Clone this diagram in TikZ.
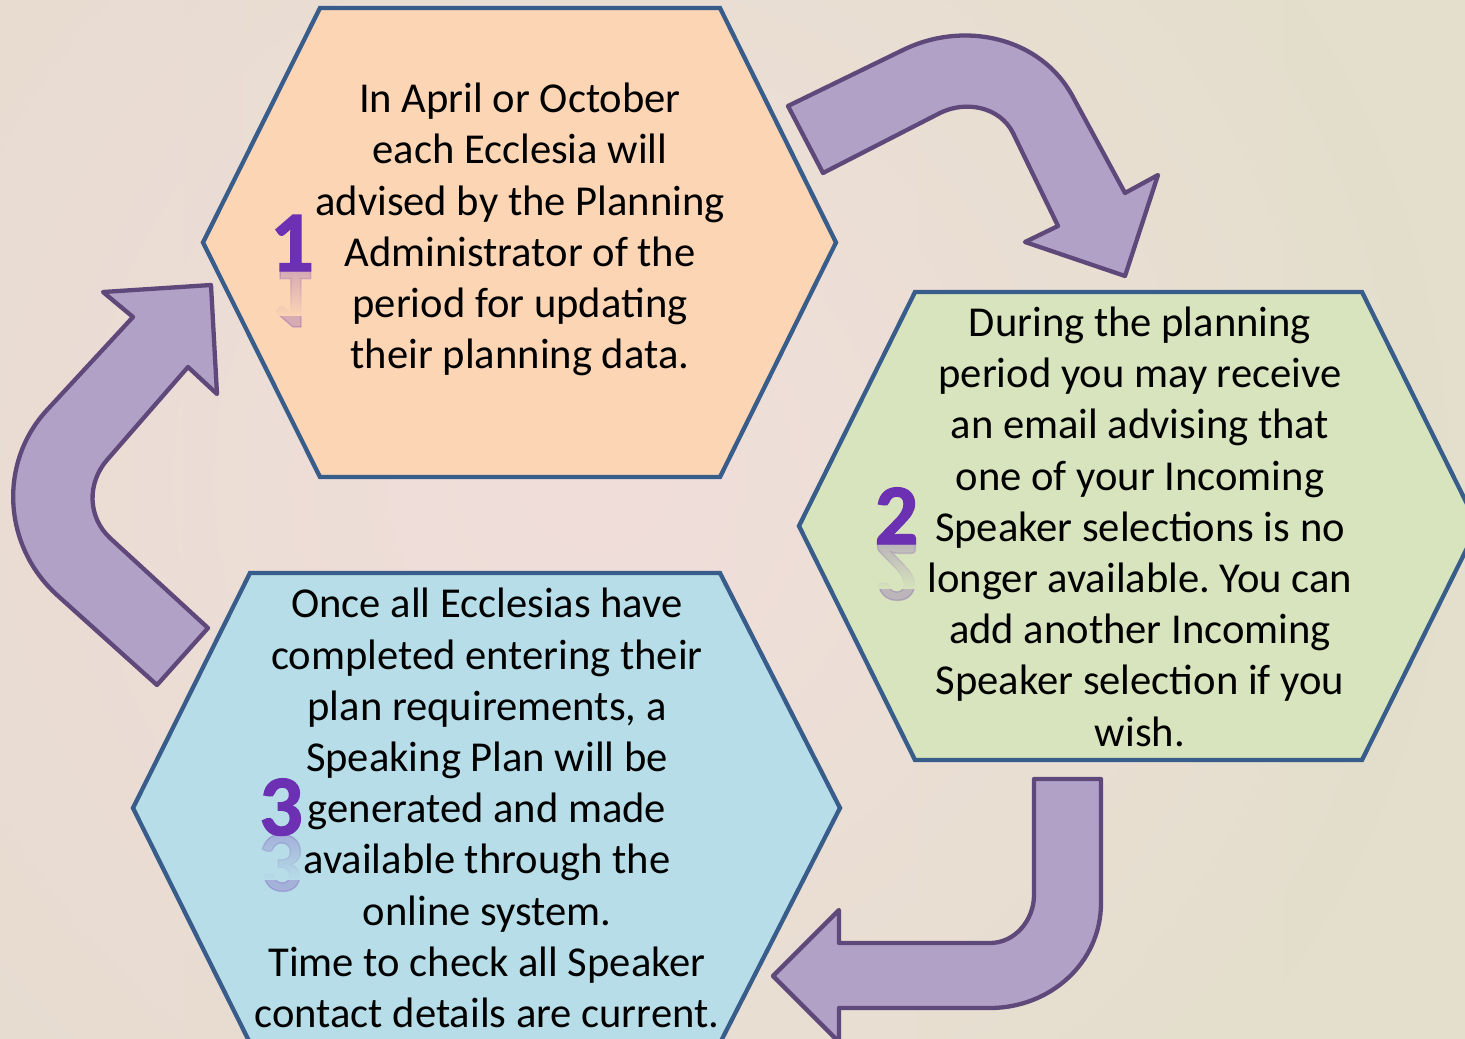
\documentclass[tikz,border=0pt]{standalone}
\usepackage{fontspec}
\setmainfont{Carlito}
\newfontfamily\numfont{Carlito}[BoldFeatures={FakeBold=1.6}]
\usetikzlibrary{fadings}
\frenchspacing

\definecolor{bgbeige}{HTML}{E7DCD0}
\definecolor{bgright}{HTML}{E3DFCC}
\definecolor{bgpink}{HTML}{F1DEDB}
\definecolor{hexline}{RGB}{56,93,138}
\definecolor{peach}{HTML}{FCD5B5}
\definecolor{sage}{HTML}{D7E4BD}
\definecolor{sky}{HTML}{B7DEE8}
\definecolor{arrowfill}{HTML}{B2A1C7}
\definecolor{arrowline}{HTML}{5F497A}
\definecolor{digit}{RGB}{108,48,178}

\tikzfading[name=glow, inner color=transparent!0, outer color=transparent!100]
\tikzfading[name=fadeup, top color=transparent!100, bottom color=transparent!0]

\begin{document}
\begin{tikzpicture}[x=1pt,y=-1pt,
  hexagon/.style={draw=hexline, line width=4.3pt, line join=miter},
  bentarrow/.style={fill=arrowfill, draw=arrowline, line width=4.3pt, line join=round},
  body/.style={align=center, inner sep=0pt, font=\fontsize{42.6}{51.2}\selectfont\frenchspacing},
  stepnum/.style={anchor=base, inner sep=0pt, text=digit, font=\fontsize{86}{90}\selectfont\numfont\bfseries},
  mirror/.style={stepnum, yscale=-1, opacity=0.25},
]
\useasboundingbox (0,0) rectangle (1465,1039);
\clip (0,0) rectangle (1465,1039);

% background
\shade[left color=bgbeige, right color=bgright] (0,0) rectangle (1465,1039);
\fill[bgpink, path fading=glow] (600,480) circle (850);

% hexagons
\filldraw[hexagon, fill=peach] (203,242.5) -- (320,8) -- (720,8) -- (836,242.5) -- (720,477) -- (320,477) -- cycle;
\filldraw[hexagon, fill=sage] (799,526) -- (915,292) -- (1362,292) -- (1478,526) -- (1362,760) -- (915,760) -- cycle;
\filldraw[hexagon, fill=sky] (133,808) -- (250,573) -- (720,573) -- (840,808) -- (720,1043) -- (250,1043) -- cycle;

% bent arrows
\filldraw[bentarrow] (788,106) -- (903,50) .. controls (964,20) and (1041,37) .. (1073,97)
  -- (1125,193) -- (1158,175) -- (1125,276) -- (1025,242) -- (1058,226) -- (1013,133)
  .. controls (1000,107) and (966,100) .. (940,113) -- (823,173) -- cycle;
\filldraw[bentarrow] (157,685) -- (57,595) .. controls (3,546) and (-2,463) .. (47,410)
  -- (133,317) -- (103,292) -- (211,285) -- (217,394) -- (188,367) -- (107,460)
  .. controls (87,483) and (87.5,517) .. (110,538) -- (208,628) -- cycle;
\filldraw[bentarrow] (1034,779) -- (1101,779) -- (1101,903) .. controls (1101,963) and (1050,1008) .. (990,1008)
  -- (839,1008) -- (839,1042) -- (773,976) -- (839,910) -- (839,943) -- (990,943)
  .. controls (1015,943) and (1034,920) .. (1034,895) -- cycle;

% texts
\node[body] (t1) at (520,230.5) {\strut In April or October\\ \strut each Ecclesia will\\ \strut advised by the Planning\\ \strut Administrator of the\\ \strut period for updating\\ \strut their planning data.};
\node[body] (t2) at (1140,531) {\strut During the planning\\ \strut period you may receive\\ \strut an email advising that\\ \strut one of your Incoming\\ \strut Speaker selections is no\\ \strut longer available. You can\\ \strut add another Incoming\\ \strut Speaker selection if you\\ \strut wish.};
\node[body] (t3) at (487,812.5) {\strut Once all Ecclesias have\\ \strut completed entering their\\ \strut plan requirements, a\\ \strut Speaking Plan will be\\ \strut generated and made\\ \strut available through the\\ \strut online system.\\ \strut Time to check all Speaker\\ \strut contact details are current.};

% step numbers with reflections
\node[mirror] (r1) at (292,271) {1};
\fill[peach, path fading=fadeup] (262,271) rectangle (322,316);
\node[stepnum] (n1) at (292,271) {1};
\node[mirror] (r2) at (896.5,544) {2};
\fill[sage, path fading=fadeup] (870,544) rectangle (923,589);
\node[stepnum] (n2) at (896.5,544) {2};
\node[mirror] (r3) at (281,835) {3};
\fill[sky, path fading=fadeup] (257,835) rectangle (304,880);
\node[stepnum] (n3) at (281,835) {3};
\end{tikzpicture}
\end{document}
